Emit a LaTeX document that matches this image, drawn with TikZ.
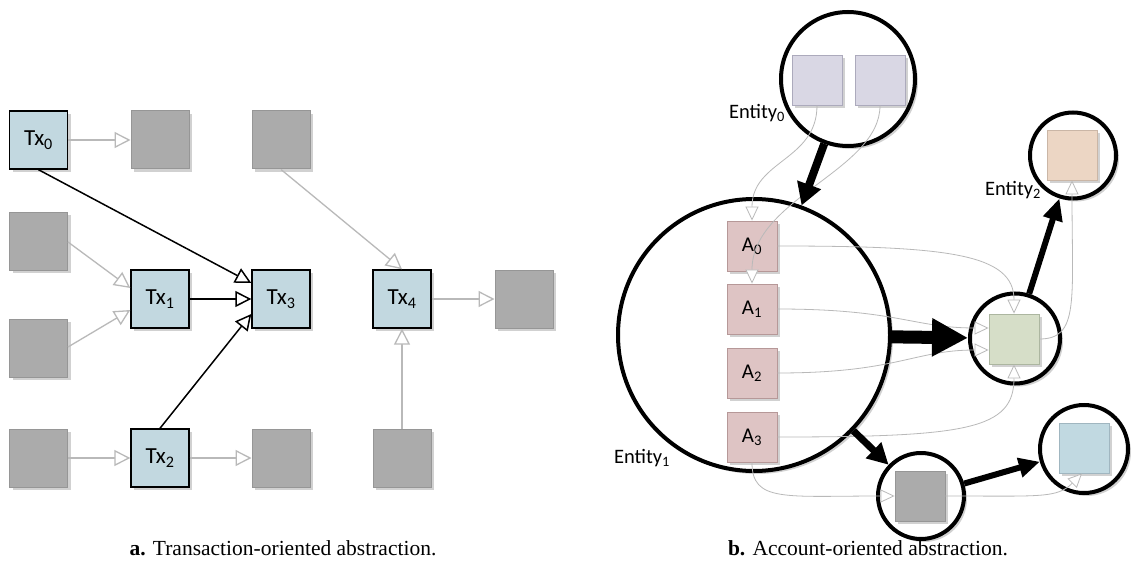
\documentclass[tikz,border=0pt]{standalone}
\usepackage{fontspec}
\setmainfont{Liberation Serif}
\newfontfamily\carl{Carlito}
\usetikzlibrary{arrows.meta,shadows}
\definecolor{txfill}{RGB}{194,216,224}
\definecolor{gfill}{RGB}{171,171,171}
\definecolor{gborder}{RGB}{150,150,150}
\definecolor{lavfill}{RGB}{217,215,228}
\definecolor{lavborder}{RGB}{172,170,188}
\definecolor{pinkfill}{RGB}{222,196,196}
\definecolor{pinkborder}{RGB}{182,152,152}
\definecolor{grnfill}{RGB}{214,222,200}
\definecolor{grnborder}{RGB}{172,182,160}
\definecolor{pchfill}{RGB}{236,214,196}
\definecolor{pchborder}{RGB}{202,182,166}
\definecolor{blufill}{RGB}{193,217,225}
\definecolor{bluborder}{RGB}{160,182,192}
\definecolor{thin}{RGB}{185,185,185}
\tikzset{
  shad/.style={drop shadow={shadow xshift=3pt,shadow yshift=-3pt,opacity=0.18,fill=black}},
  txbox/.style={rectangle,draw=black,line width=1.4pt,fill=txfill,minimum size=58pt,inner sep=0pt,shad,
    font=\carl\fontsize{23}{27}\selectfont},
  gbox/.style={rectangle,draw=gborder,line width=1pt,fill=gfill,minimum size=58pt,inner sep=0pt,shad},
  sq/.style={rectangle,line width=0.9pt,minimum size=50pt,inner sep=0pt,shad,
    font=\carl\fontsize{21}{25}\selectfont},
  ent/.style={circle,draw=black,line width=4pt,fill=white,inner sep=0pt,shad},
  lbl/.style={font=\carl\fontsize{20.5}{24}\selectfont,inner sep=0pt},
  graylink/.style={draw=thin,line width=1.3pt,-{Triangle[fill=white,length=16pt,width=16pt]}},
  blacklink/.style={draw=black,line width=1.5pt,-{Triangle[fill=white,length=16pt,width=16pt]}},
  thinlink/.style={draw=thin,line width=0.8pt,-{Triangle[fill=white,length=14pt,width=13pt]}},
  captext/.style={font=\fontsize{21.5}{25}\selectfont,inner sep=0pt},
}
\begin{document}
\begin{tikzpicture}[x=1pt,y=-1pt]
\useasboundingbox[fill=white] (0,0) rectangle (1141,575);

% ---------- a. transaction-oriented ----------
\node[txbox] (Tx0) at (38.5,140) {Tx\textsubscript{0}};
\node[gbox] (g01) at (160,140) {};
\node[gbox] (g02) at (281,140) {};
\node[gbox] (g10) at (38.5,241) {};
\node[txbox] (Tx1) at (160,299) {Tx\textsubscript{1}};
\node[txbox] (Tx3) at (281,299) {Tx\textsubscript{3}};
\node[txbox] (Tx4) at (402,299) {Tx\textsubscript{4}};
\node[gbox] (g34) at (524,299) {};
\node[gbox] (g20) at (38.5,348) {};
\node[gbox] (g30) at (38.5,458) {};
\node[txbox] (Tx2) at (160,458) {Tx\textsubscript{2}};
\node[gbox] (g32) at (281,458) {};
\node[gbox] (g33) at (402,458) {};

\draw[graylink] (Tx0.east) -- (g01.west);
\draw[graylink] ([yshift=-1pt]g10.east) -- ([yshift=11pt]Tx1.west);
\draw[graylink] ([yshift=1pt]g20.east) -- ([yshift=-11pt]Tx1.west);
\draw[graylink] (g30.east) -- (Tx2.west);
\draw[graylink] (Tx2.east) -- (g32.west);
\draw[graylink] (g02.south) -- (Tx4.north);
\draw[graylink] (Tx4.east) -- (g34.west);
\draw[graylink] (g33.north) -- (Tx4.south);
\draw[blacklink] (Tx0.south) -- ([yshift=16pt]Tx3.west);
\draw[blacklink] (Tx1.east) -- (Tx3.west);
\draw[blacklink] (Tx2.north) -- ([yshift=-15pt]Tx3.west);

% ---------- b. account-oriented ----------
\node[ent,minimum size=134pt] (E0) at (848,79) {};
\node[ent,minimum size=272pt] (E1) at (754,335) {};
\node[ent,minimum size=90pt] (EG) at (1015,338.5) {};
\node[ent,minimum size=86pt] (E2) at (1073,155.5) {};
\node[ent,minimum size=86pt] (EGR) at (921,496) {};
\node[ent,minimum size=88pt] (EB) at (1084,449) {};

\node[sq,draw=lavborder,fill=lavfill] (S1) at (817,80) {};
\node[sq,draw=lavborder,fill=lavfill] (S2) at (880,80) {};
\node[sq,draw=pinkborder,fill=pinkfill] (A0) at (752,246) {A\textsubscript{0}};
\node[sq,draw=pinkborder,fill=pinkfill] (A1) at (752,309) {A\textsubscript{1}};
\node[sq,draw=pinkborder,fill=pinkfill] (A2) at (752,373) {A\textsubscript{2}};
\node[sq,draw=pinkborder,fill=pinkfill] (A3) at (752,437) {A\textsubscript{3}};
\node[sq,draw=grnborder,fill=grnfill] (Gs) at (1014,339) {};
\node[sq,draw=pchborder,fill=pchfill] (Ps) at (1072,155) {};
\node[sq,draw=gborder,fill=gfill] (GRs) at (920,496) {};
\node[sq,draw=bluborder,fill=blufill] (Bs) at (1084,448) {};

\node[lbl] (L0) at (757,113) {Entity\textsubscript{0}};
\node[lbl] (L1) at (642,458) {Entity\textsubscript{1}};
\node[lbl] (L2) at (1013,190) {Entity\textsubscript{2}};

% thin connectors
\draw[thinlink] (S1.south) .. controls +(0,55) and +(0,-60) .. (A0.north);
\draw[thinlink] (S2.south) .. controls +(0,65) and +(0,-85) .. (A1.north);
\draw[thinlink] (A0.east) .. controls +(170,0) and +(0,-60) .. (Gs.north);
\draw[thinlink] (A1.east) .. controls +(120,0) and +(-75,0) .. ([yshift=11pt]Gs.west);
\draw[thinlink] (A2.east) .. controls +(120,0) and +(-75,0) .. ([yshift=-11pt]Gs.west);
\draw[thinlink] (A3.east) .. controls +(190,0) and +(0,65) .. (Gs.south);
\draw[thinlink] (A3.south) .. controls +(0,40) and +(-110,0) .. (GRs.west);
\draw[thinlink] (GRs.east) .. controls +(95,0) and +(-25,25) .. ([xshift=-2pt]Bs.south);
\draw[thinlink] (Gs.east) .. controls +(40,0) and +(0,120) .. (Ps.south);

% thick arrows
\draw[line width=8pt,-{Triangle[length=22pt,width=24pt]}] (E0) -- (E1);
\draw[line width=13pt,-{Triangle[length=36pt,width=36pt]}] (E1) -- (EG);
\draw[line width=7pt,-{Triangle[length=21pt,width=21pt]}] (E1) -- (EGR);
\draw[line width=6pt,-{Triangle[length=21pt,width=19pt]}] (EGR) -- (EB);
\draw[line width=6pt,-{Triangle[length=22pt,width=19pt]}] (EG) -- (E2);

% captions
\node[captext] (capa) at (283,548) {\textbf{a.} Transaction-oriented abstraction.};
\node[captext] (capb) at (868,548) {\textbf{b.} Account-oriented abstraction.};
\end{tikzpicture}
\end{document}
